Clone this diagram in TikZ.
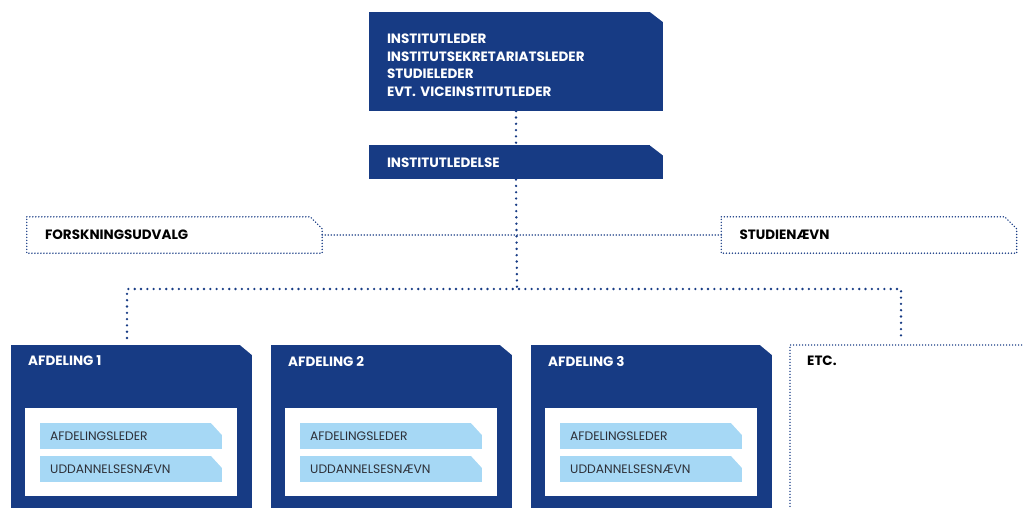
\documentclass[tikz,border=0pt]{standalone}
\usepackage{fontspec}
\setmainfont{Poppins}
\usetikzlibrary{positioning}

\definecolor{aublue}{RGB}{23,59,132}
\definecolor{aulight}{RGB}{166,216,245}
\definecolor{bartext}{RGB}{45,48,56}

\tikzset{
    cutcorner/.style 2 args={path picture={
        \fill[white] ([xshift=-#1]path picture bounding box.north east)
            -- ([xshift=-#1,yshift=2pt]path picture bounding box.north east)
            -- ([xshift=2pt,yshift=2pt]path picture bounding box.north east)
            -- ([xshift=2pt,yshift=-#2]path picture bounding box.north east)
            -- ([yshift=-#2]path picture bounding box.north east) -- cycle;}},
    dotcorner/.style 2 args={append after command={\pgfextra{
        \draw[boxdots] (\tikzlastnode.north west)
            -- ([xshift=-#1]\tikzlastnode.north east)
            -- ([yshift=-#2]\tikzlastnode.north east)
            -- (\tikzlastnode.south east) -- (\tikzlastnode.south west) -- cycle;}}},
    headfont/.style={font=\bfseries\fontsize{13.5}{17.4}\selectfont},
    solidbox/.style={fill=aublue, text=white, headfont, inner xsep=18pt, inner ysep=0pt,
        text width=258pt, align=left, cutcorner={13pt}{10pt}},
    dotbox/.style={headfont, inner xsep=18pt, inner ysep=0pt, minimum height=36pt,
        text width=259pt, align=left, dotcorner={12pt}{12pt}},
    afdbox/.style={fill=aublue, minimum width=241pt, minimum height=200pt, cutcorner={12pt}{10pt}},
    afdlabel/.style={text=white, headfont, inner sep=0pt},
    innerbox/.style={fill=white, minimum width=212pt, minimum height=88pt, inner sep=0pt},
    bar/.style={fill=aulight, text=bartext, font=\fontsize{12.3}{14}\selectfont,
        inner xsep=10pt, inner ysep=0pt, text width=162pt, minimum height=25.5pt,
        align=left, cutcorner={11pt}{12pt}},
    boxdots/.style={aublue, line width=1.6pt, line cap=round, dash pattern=on 0pt off 3pt},
    link/.style={aublue, line width=2.6pt, line cap=round, dash pattern=on 0pt off 6.3pt},
    thinlink/.style={aublue!90, line width=1.9pt, line cap=round, dash pattern=on 0pt off 3pt},
}

\begin{document}
\begin{tikzpicture}[x=1pt, y=-1pt]
    \clip (0,0) rectangle (1023,508);

    % ledelse
    \node[solidbox, minimum height=99pt, text depth=45pt] (ledere) at (516,61.5)
        {INSTITUTLEDER\\INSTITUTSEKRETARIATSLEDER\\STUDIELEDER\\EVT. VICEINSTITUTLEDER};
    \node[solidbox, minimum height=34pt, below=34pt of ledere] (ledelse) {INSTITUTLEDELSE};

    % udvalg
    \node[dotbox] (forsk) at (174.5,235) {FORSKNINGSUDVALG};
    \node[dotbox] (studie) at (869,235) {STUDIENÆVN};

    % afdelinger
    \foreach \i/\x in {1/11, 2/271, 3/531}{
        \node[afdbox, anchor=north west] (afd\i) at (\x,345) {};
        \node[afdlabel, anchor=west] (afd\i label) at ([xshift=17pt,yshift=-16pt]afd\i.north west) {AFDELING \i};
        \node[innerbox, anchor=north west] (afd\i inner) at ([xshift=14pt,yshift=-63pt]afd\i.north west) {};
        \node[bar, anchor=north west] (afd\i leder) at ([xshift=15pt,yshift=-15pt]afd\i inner.north west) {AFDELINGSLEDER};
        \node[bar, below=7pt of afd\i leder] (afd\i udd) {UDDANNELSESNÆVN};
    }
    \node[draw=none, minimum width=260pt, minimum height=200pt, anchor=north west] (etc) at (790,345) {};
    \draw[boxdots] (etc.south west) -- (etc.north west) -- (etc.north east);
    \node[headfont, anchor=west, inner sep=0pt] (etc label) at ([xshift=17pt,yshift=-16pt]etc.north west) {ETC.};

    % forbindelser
    \coordinate (bus) at (517,289);
    \coordinate (afd1 top) at (127,338);
    \coordinate (etc top) at (901,338);
    \draw[thinlink] (forsk.east) -- (studie.west);
    \draw[link] (ledere.south) -- (ledelse.north);
    \draw[link] (ledelse.south) -- (bus);
    \draw[link] (afd1 top) |- (bus) -| (etc top);
\end{tikzpicture}
\end{document}
